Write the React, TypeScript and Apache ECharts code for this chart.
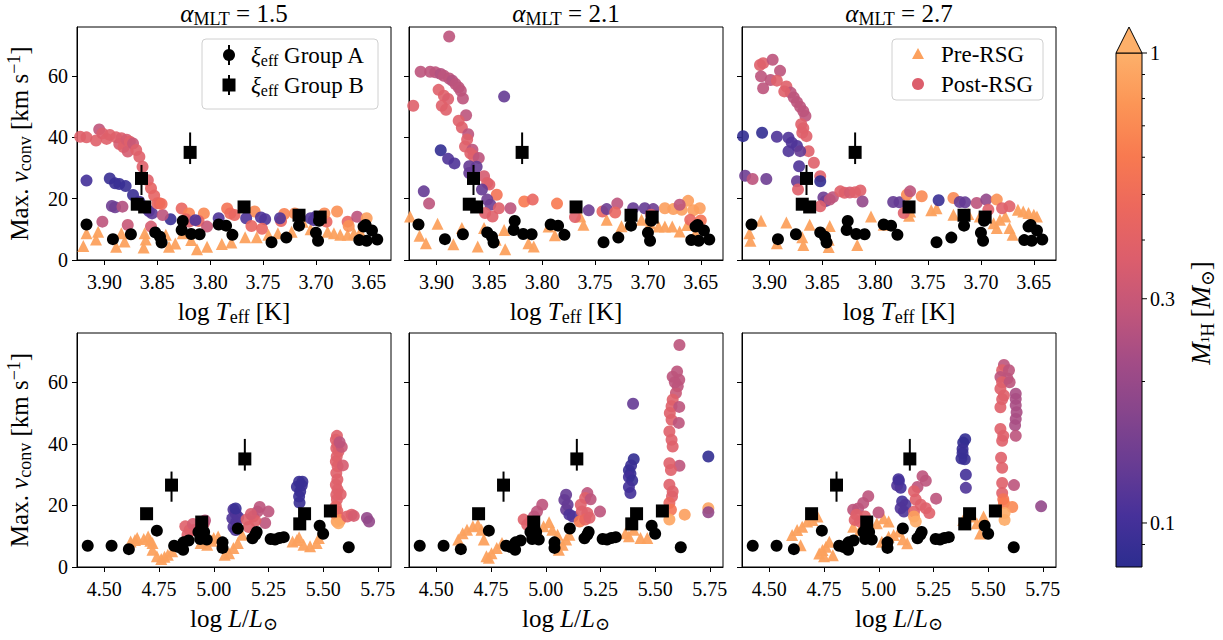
import React, { useEffect, useRef } from "react";
import * as echarts from "echarts";

const FONT = '"Liberation Serif", "DejaVu Serif", serif';

// ---------- colour map (bottom -> top of the colour bar, evenly spaced in log10 M) ----------
const CMAP = ["#2c2d8f", "#47319a", "#683c93", "#86458c", "#a34c86", "#c2567a", "#dc5e6c", "#ec685d", "#f87a50", "#fc9556", "#fdb06a"];
const M_MIN = 0.0806;
const M_MAX = 1;
const PRE_COLOR = "#fca15e";

// ---------- ticks / labels ----------
const teffTicks = [3.65, 3.7, 3.75, 3.8, 3.85, 3.9];
const lumTicks = [4.5, 4.75, 5.0, 5.25, 5.5, 5.75];
const vTicks = [0, 20, 40, 60];
const cbMajor = [1, 0.3, 0.1];
const cbMajorLabels = ["1", "0.3", "0.1"];
const cbMinor = [0.9, 0.8, 0.7, 0.6, 0.5, 0.4, 0.2, 0.09];
const alphaLabels = ["1.5", "2.1", "2.7"];

// ---------- observations ----------
// Group A : [logTeff, v]
const obsATop = [
  [3.917, 11.6], [3.892, 6.8], [3.875, 8.4], [3.852, 9.0], [3.8475, 7.6], [3.846, 5.7], [3.827, 9.8], [3.826, 12.7],
  [3.818, 8.5], [3.81, 8.4], [3.792, 11.6], [3.785, 11.2], [3.779, 8.2], [3.742, 5.8], [3.728, 7.3], [3.716, 11.2],
  [3.7, 8.9], [3.698, 6.3], [3.697, 12.8], [3.659, 6.5], [3.655, 10.9], [3.652, 6.3], [3.653, 11.4], [3.647, 9.6], [3.642, 6.7],
];
// Group A : [logL, v]
const obsABot = [
  [4.424, 6.9], [4.533, 6.9], [4.612, 5.8], [4.74, 11.8], [4.819, 6.9], [4.84, 6.5], [4.86, 5.6], [4.862, 8.0],
  [4.885, 8.6], [4.93, 11.4], [4.938, 9.1], [4.956, 11.4], [4.968, 8.9], [5.04, 8.0], [5.04, 6.2], [5.11, 12.5],
  [5.177, 9.3], [5.196, 11.4], [5.19, 10.5], [5.26, 9.1], [5.28, 8.9], [5.3, 9.4], [5.32, 9.7], [5.484, 13.4], [5.5, 10.8], [5.617, 6.4],
];
// Group B : [logTeff, logL, v, errLow, errHigh]
const obsB = [
  [3.865, 4.807, 26.6, 5.4, 4.4],
  [3.819, 5.142, 35.1, 3.8, 6.5],
  [3.869, 5.533, 18.2, 1.0, 1.0],
  [3.862, 5.415, 17.3, 1.0, 1.0],
  [3.768, 4.693, 17.3, 1.0, 1.0],
  [3.716, 4.945, 14.6, 1.0, 1.0],
  [3.696, 5.393, 14.0, 1.0, 1.0],
];

// ---------- models : post-RSG [x, v, M_H] ; pre-RSG [x, v] ----------
const top1Post = [
  [3.923, 40.2, 0.38], [3.917, 40.0, 0.38], [3.905, 42.6, 0.28], [3.908, 39.0, 0.38], [3.902, 41.3, 0.36],
  [3.898, 39.5, 0.38], [3.895, 40.8, 0.38], [3.889, 40.0, 0.38], [3.886, 37.8, 0.34], [3.884, 39.7, 0.36],
  [3.882, 36.8, 0.38], [3.879, 39.2, 0.34], [3.878, 35.4, 0.34], [3.876, 38.6, 0.38], [3.873, 38.0, 0.3],
  [3.87, 35.9, 0.38], [3.867, 33.7, 0.38], [3.864, 30.4, 0.38], [3.859, 26.0, 0.38], [3.856, 23.4, 0.42],
  [3.853, 21.0, 0.42], [3.848, 18.5, 0.45],
  [3.917, 25.9, 0.1], [3.895, 26.6, 0.09], [3.89, 25.0, 0.09], [3.886, 24.8, 0.09], [3.88, 24.1, 0.09],
  [3.873, 21.2, 0.09], [3.867, 19.0, 0.1], [3.861, 17.0, 0.11], [3.858, 16.0, 0.11], [3.855, 15.2, 0.12], [3.8375, 13.3, 0.09],
  [3.893, 17.6, 0.14], [3.89, 17.2, 0.14], [3.883, 17.4, 0.25], [3.902, 12.5, 0.27], [3.878, 11.4, 0.3],
  [3.856, 10.9, 0.34], [3.845, 14.7, 0.27], [3.85, 18.5, 0.45], [3.846, 18.3, 0.5], [3.827, 16.8, 0.45],
  [3.82, 15.2, 0.65], [3.806, 15.2, 0.7], [3.823, 13.3, 0.45], [3.811, 12.7, 0.45], [3.803, 10.9, 0.3],
  [3.82, 12.5, 0.38], [3.814, 13.0, 0.11], [3.792, 13.6, 0.11], [3.784, 16.8, 0.55], [3.781, 15.2, 0.5],
  [3.777, 14.7, 0.45], [3.758, 15.8, 0.7], [3.766, 13.6, 0.11], [3.752, 13.9, 0.11], [3.748, 13.3, 0.11],
  [3.761, 11.1, 0.45], [3.751, 10.2, 0.45], [3.733, 12.7, 0.45], [3.73, 15.0, 0.65], [3.734, 13.6, 0.11],
  [3.72, 15.2, 0.7], [3.716, 14.1, 0.11], [3.705, 13.6, 0.11], [3.702, 13.0, 0.11], [3.7, 14.1, 0.11],
  [3.69, 12.5, 0.45], [3.692, 15.2, 0.7], [3.68, 15.8, 0.75], [3.67, 12.5, 0.45], [3.669, 11.1, 0.75],
  [3.661, 14.1, 0.27], [3.652, 13.6, 0.85],
];
const top1Pre = [
  [3.92, 4.6], [3.917, 8.7], [3.908, 6.7], [3.906, 9.2], [3.889, 4.3], [3.884, 8.7], [3.881, 6.0], [3.862, 8.7],
  [3.863, 4.1], [3.861, 6.7], [3.842, 8.2], [3.839, 4.3], [3.833, 5.4], [3.826, 8.7], [3.818, 6.5], [3.8125, 3.5],
  [3.803, 4.3], [3.789, 5.2], [3.78, 5.7], [3.767, 7.4], [3.756, 7.4], [3.745, 8.2], [3.736, 8.7], [3.723, 9.2],
  [3.7125, 12.5], [3.705, 10.0], [3.689, 9.2], [3.683, 8.7], [3.677, 8.2], [3.67, 8.2], [3.664, 8.7], [3.658, 9.2],
];

const top2Post = [
  [3.922, 50.3, 0.38], [3.927, 22.0, 0.27], [3.915, 61.4, 0.27], [3.906, 61.4, 0.27], [3.901, 61.2, 0.27],
  [3.896, 60.7, 0.25], [3.893, 60.1, 0.27], [3.888, 59.2, 0.27], [3.885, 58.5, 0.25], [3.882, 57.4, 0.27],
  [3.879, 56.3, 0.27], [3.877, 55.2, 0.27], [3.875, 52.7, 0.27], [3.888, 72.9, 0.27], [3.898, 55.5, 0.38],
  [3.893, 53.6, 0.38], [3.889, 52.5, 0.36], [3.895, 50.3, 0.38], [3.891, 49.0, 0.38], [3.872, 47.2, 0.27],
  [3.879, 45.4, 0.38], [3.876, 43.2, 0.38], [3.87, 41.0, 0.27], [3.871, 39.3, 0.38], [3.873, 37.0, 0.38],
  [3.866, 36.0, 0.27], [3.868, 34.8, 0.38], [3.865, 33.9, 0.38], [3.86, 33.3, 0.27], [3.869, 30.6, 0.13],
  [3.862, 30.4, 0.13], [3.869, 28.4, 0.13], [3.855, 27.3, 0.34], [3.852, 25.1, 0.38], [3.85, 24.6, 0.38],
  [3.857, 23.0, 0.13], [3.843, 21.3, 0.55], [3.896, 35.8, 0.085], [3.889, 33.0, 0.11], [3.883, 31.5, 0.11],
  [3.912, 22.4, 0.13], [3.907, 18.4, 0.27], [3.852, 19.7, 0.14], [3.849, 18.0, 0.14], [3.854, 15.3, 0.38],
  [3.847, 14.2, 0.38], [3.841, 16.9, 0.38], [3.83, 16.9, 0.27], [3.836, 53.3, 0.13], [3.817, 19.1, 0.6],
  [3.809, 19.7, 0.45], [3.786, 18.4, 0.6], [3.769, 14.0, 0.38], [3.756, 16.2, 0.14], [3.743, 15.8, 0.45],
  [3.739, 16.6, 0.14], [3.729, 18.4, 0.27], [3.731, 15.5, 0.45], [3.714, 16.9, 0.13], [3.703, 16.9, 0.13],
  [3.695, 16.6, 0.14], [3.697, 14.8, 0.38], [3.684, 16.9, 0.85], [3.676, 16.6, 0.85], [3.668, 16.4, 0.85],
  [3.662, 19.3, 0.85], [3.67, 18.0, 0.27], [3.657, 16.2, 0.85], [3.651, 16.9, 0.85], [3.66, 13.1, 0.45], [3.65, 12.9, 0.55],
];
const top2Pre = [
  [3.925, 14.2], [3.916, 7.9], [3.91, 5.5], [3.899, 11.8], [3.884, 5.1], [3.876, 10.4], [3.861, 4.4], [3.855, 10.4],
  [3.844, 6.6], [3.836, 9.8], [3.835, 3.5], [3.813, 5.5], [3.808, 4.4], [3.794, 10.9], [3.788, 8.1], [3.764, 14.2],
  [3.761, 11.5], [3.739, 13.1], [3.725, 11.0], [3.718, 11.8], [3.706, 13.1], [3.698, 12.0], [3.69, 10.9], [3.684, 10.9],
  [3.677, 10.9], [3.67, 9.3], [3.663, 11.4], [3.655, 8.7],
];

const top3Post = [
  [3.909, 63.6, 0.38], [3.906, 64.2, 0.38], [3.897, 65.3, 0.27], [3.89, 61.7, 0.27], [3.908, 59.9, 0.27],
  [3.899, 58.7, 0.27], [3.906, 56.0, 0.27], [3.893, 58.5, 0.38], [3.884, 56.6, 0.38], [3.88, 54.6, 0.27],
  [3.886, 55.0, 0.38], [3.877, 53.0, 0.27], [3.874, 51.5, 0.27], [3.871, 50.0, 0.27], [3.868, 48.5, 0.27],
  [3.866, 47.0, 0.27], [3.87, 44.3, 0.38], [3.868, 43.0, 0.38], [3.869, 41.5, 0.38], [3.865, 40.4, 0.38],
  [3.863, 35.5, 0.38], [3.858, 31.7, 0.38], [3.852, 27.3, 0.38],
  [3.925, 40.4, 0.085], [3.907, 41.5, 0.085], [3.893, 40.2, 0.11], [3.882, 39.9, 0.11], [3.879, 38.3, 0.11],
  [3.874, 37.2, 0.11], [3.882, 35.5, 0.11], [3.871, 35.5, 0.13], [3.872, 30.6, 0.11], [3.874, 25.7, 0.13],
  [3.852, 25.7, 0.085], [3.923, 27.5, 0.14], [3.916, 26.4, 0.27], [3.903, 26.4, 0.14], [3.873, 23.0, 0.38],
  [3.849, 20.4, 0.14], [3.847, 19.2, 0.14], [3.852, 17.5, 0.38], [3.843, 19.7, 0.27], [3.84, 20.5, 0.27],
  [3.833, 22.4, 0.38], [3.829, 21.9, 0.38], [3.824, 22.0, 0.34], [3.819, 22.1, 0.38], [3.814, 22.7, 0.38],
  [3.812, 19.1, 0.19], [3.783, 18.9, 0.13], [3.777, 18.8, 0.13], [3.77, 21.3, 0.7], [3.767, 22.4, 0.27],
  [3.773, 15.3, 0.38], [3.756, 20.8, 0.7], [3.74, 19.5, 0.09], [3.726, 20.2, 0.7], [3.72, 18.9, 0.13],
  [3.715, 18.8, 0.13], [3.704, 18.6, 0.27], [3.695, 19.7, 0.19], [3.685, 19.7, 0.75], [3.68, 16.9, 0.38],
  [3.673, 17.5, 0.38], [3.693, 16.4, 0.38],
];
const top3Pre = [
  [3.919, 8.7], [3.918, 6.3], [3.908, 12.8], [3.893, 5.5], [3.884, 12.2], [3.869, 7.4], [3.868, 4.9], [3.862, 11.5],
  [3.843, 11.1], [3.844, 4.2], [3.844, 6.6], [3.817, 4.9], [3.804, 14.2], [3.792, 11.5], [3.768, 14.4], [3.767, 15.8],
  [3.747, 16.2], [3.742, 16.9], [3.726, 14.8], [3.712, 15.0], [3.701, 14.2], [3.688, 12.0], [3.682, 13.1], [3.677, 14.2],
  [3.673, 10.4], [3.67, 8.2], [3.665, 16.4], [3.66, 15.8], [3.655, 15.3], [3.65, 14.8], [3.647, 14.2], [3.685, 10.4],
];

const bot1Post = [
  [5.563, 42.6, 0.38], [5.558, 41.3, 0.38], [5.566, 39.7, 0.38], [5.56, 38.6, 0.38], [5.57, 37.5, 0.38],
  [5.562, 35.9, 0.38], [5.558, 34.3, 0.38], [5.566, 32.7, 0.38], [5.56, 30.5, 0.38], [5.565, 28.4, 0.38],
  [5.558, 26.7, 0.38], [5.566, 25.1, 0.38], [5.56, 23.5, 0.38], [5.563, 21.9, 0.38], [5.558, 19.7, 0.42],
  [5.565, 18.1, 0.42], [5.56, 17.0, 0.45], [5.585, 39.0, 0.3], [5.59, 33.0, 0.34], [5.58, 23.6, 0.38],
  [5.575, 40.5, 0.27], [5.562, 14.8, 0.85], [5.578, 15.3, 0.7], [5.57, 14.2, 0.95], [5.61, 16.4, 0.38],
  [5.63, 17.0, 0.38], [5.64, 16.6, 0.34], [5.7, 15.9, 0.19], [5.71, 14.8, 0.19],
  [5.38, 26.1, 0.09], [5.39, 27.7, 0.09], [5.405, 27.7, 0.09], [5.395, 24.5, 0.09], [5.39, 22.9, 0.09],
  [5.392, 20.9, 0.09], [5.402, 26.5, 0.09],
  [5.09, 18.7, 0.11], [5.1, 17.4, 0.11], [5.085, 15.8, 0.11], [5.103, 14.6, 0.11], [5.09, 13.0, 0.11],
  [5.1, 12.0, 0.11], [5.112, 16.2, 0.11], [5.1, 19.0, 0.09],
  [5.18, 16.4, 0.38], [5.15, 15.4, 0.38], [5.2, 18.0, 0.27], [5.21, 19.5, 0.27], [5.235, 14.3, 0.27],
  [5.25, 18.0, 0.27], [5.19, 15.0, 0.38], [5.16, 13.0, 0.38], [5.17, 17.2, 0.34],
  [4.87, 13.2, 0.38], [4.89, 12.0, 0.38], [4.91, 12.0, 0.38], [4.94, 13.3, 0.38], [4.955, 14.2, 0.38],
  [4.96, 15.1, 0.27], [4.88, 10.5, 0.38], [4.905, 14.0, 0.34],
];
const bot1Pre = [
  [4.62, 8.3], [4.64, 8.8], [4.65, 9.4], [4.68, 9.1], [4.7, 9.9], [4.71, 8.5], [4.72, 7.8], [4.72, 5.6],
  [4.74, 3.5], [4.76, 2.6], [4.775, 3.3], [4.79, 4.0], [4.81, 5.1], [4.94, 7.8], [4.97, 7.2], [5.0, 9.4],
  [5.02, 9.9], [4.99, 8.5], [5.05, 4.0], [5.07, 4.5], [5.09, 6.2], [5.11, 7.8], [5.13, 10.5], [5.36, 8.3],
  [5.39, 9.7], [5.41, 7.2], [5.44, 6.7], [5.47, 7.8], [5.48, 9.4], [5.38, 8.8],
];

const bot2Post = [
  [5.611, 72.1, 0.27], [5.58, 61.8, 0.27], [5.61, 60.8, 0.27], [5.603, 58.7, 0.27], [5.595, 56.5, 0.3],
  [5.58, 54.3, 0.38], [5.575, 52.2, 0.38], [5.61, 52.0, 0.27], [5.567, 50.0, 0.38], [5.575, 47.8, 0.38],
  [5.608, 46.8, 0.27], [5.565, 44.0, 0.38], [5.575, 41.3, 0.38], [5.58, 39.1, 0.38], [5.611, 32.9, 0.27],
  [5.565, 33.7, 0.38], [5.572, 31.5, 0.38], [5.565, 26.7, 0.38], [5.58, 24.5, 0.38], [5.577, 22.9, 0.38],
  [5.565, 20.8, 0.45], [5.572, 18.6, 0.55], [5.565, 15.4, 0.9], [5.635, 17.0, 0.85], [5.743, 19.1, 0.9],
  [5.743, 17.8, 0.19], [5.399, 53.0, 0.13], [5.743, 35.9, 0.085], [5.59, 60.0, 0.27], [5.6, 63.5, 0.27],
  [5.402, 35.0, 0.085], [5.39, 33.0, 0.09], [5.38, 31.4, 0.09], [5.387, 30.3, 0.09], [5.38, 29.2, 0.1],
  [5.395, 28.1, 0.09], [5.38, 26.0, 0.1], [5.387, 24.0, 0.1],
  [5.093, 23.5, 0.13], [5.085, 21.8, 0.13], [5.1, 20.2, 0.13], [5.093, 18.6, 0.13], [5.108, 17.0, 0.11], [5.124, 16.4, 0.11],
  [5.19, 24.0, 0.27], [5.18, 22.4, 0.38], [5.205, 22.0, 0.27], [5.16, 20.2, 0.38], [5.165, 18.0, 0.38],
  [5.19, 17.5, 0.38], [5.155, 14.8, 0.6], [5.18, 15.4, 0.45], [5.2, 16.0, 0.38], [5.248, 18.0, 0.27],
  [4.899, 15.4, 0.38], [4.915, 13.7, 0.38], [4.946, 16.4, 0.27], [4.984, 20.2, 0.27], [4.96, 18.0, 0.27], [4.93, 14.8, 0.38],
];
const bot2Pre = [
  [4.6, 8.9], [4.62, 11.0], [4.64, 12.1], [4.667, 13.2], [4.69, 13.7], [4.706, 12.1], [4.717, 8.9], [4.729, 3.5],
  [4.752, 4.5], [4.776, 6.2], [4.8, 7.8], [4.74, 3.0], [4.96, 12.1], [4.99, 13.2], [5.015, 14.5], [5.03, 12.1],
  [5.054, 10.5], [5.06, 5.6], [5.077, 7.2], [5.093, 8.9], [5.108, 10.5], [5.364, 11.0], [5.402, 12.1], [5.433, 9.4],
  [5.464, 9.4], [5.38, 10.0],
];

const bot3Post = [
  [5.572, 65.6, 0.27], [5.564, 63.9, 0.38], [5.595, 63.9, 0.27], [5.556, 61.7, 0.27], [5.588, 61.2, 0.27],
  [5.564, 60.0, 0.38], [5.598, 60.0, 0.27], [5.556, 57.9, 0.38], [5.572, 55.7, 0.38], [5.564, 54.5, 0.38],
  [5.556, 51.9, 0.38], [5.626, 56.3, 0.23], [5.626, 54.6, 0.23], [5.626, 52.5, 0.23], [5.63, 50.3, 0.23],
  [5.626, 48.1, 0.23], [5.623, 46.0, 0.23], [5.626, 42.6, 0.27], [5.556, 44.8, 0.38], [5.569, 42.6, 0.38],
  [5.564, 41.0, 0.38], [5.559, 35.5, 0.38], [5.564, 32.2, 0.38], [5.564, 27.3, 0.38], [5.618, 26.6, 0.27],
  [5.564, 24.0, 0.38], [5.569, 22.0, 0.55], [5.572, 20.8, 0.6], [5.61, 19.5, 0.7], [5.575, 17.5, 0.95],
  [5.575, 15.3, 0.95], [5.742, 19.7, 0.19],
  [5.386, 40.4, 0.085], [5.395, 41.5, 0.085], [5.383, 38.3, 0.09], [5.378, 35.2, 0.09], [5.393, 35.0, 0.09],
  [5.398, 30.0, 0.1], [5.398, 25.7, 0.11], [5.383, 37.0, 0.09],
  [5.092, 27.9, 0.1], [5.1, 25.7, 0.1], [5.084, 26.5, 0.11], [5.107, 21.3, 0.1], [5.122, 20.2, 0.11],
  [5.1, 19.1, 0.11], [5.115, 18.0, 0.11], [5.09, 28.5, 0.1],
  [5.2, 29.5, 0.27], [5.215, 28.0, 0.27], [5.177, 26.0, 0.27], [5.161, 24.6, 0.38], [5.169, 21.9, 0.38],
  [5.192, 20.2, 0.38], [5.161, 18.0, 0.38], [5.215, 19.1, 0.38], [5.231, 17.5, 0.38], [5.262, 22.2, 0.27],
  [5.161, 16.4, 0.85], [5.169, 14.8, 0.95],
  [4.883, 18.6, 0.27], [4.906, 19.0, 0.27], [4.929, 20.8, 0.27], [4.952, 23.0, 0.27], [4.999, 17.7, 0.27],
  [4.89, 15.3, 0.38], [4.914, 14.8, 0.38], [4.937, 16.4, 0.38], [4.898, 17.0, 0.38],
];
const bot3Pre = [
  [4.604, 10.4], [4.627, 12.0], [4.65, 13.1], [4.673, 14.8], [4.697, 15.3], [4.72, 16.4], [4.643, 7.1], [4.728, 4.4],
  [4.743, 5.5], [4.759, 6.6], [4.774, 8.2], [4.79, 3.8], [4.75, 3.5], [4.883, 13.1], [4.914, 12.0], [4.952, 13.1],
  [4.991, 14.2], [5.022, 15.8], [5.045, 14.8], [5.014, 8.2], [5.045, 9.8], [5.068, 10.4], [5.092, 11.5], [5.13, 7.7],
  [5.11, 9.0], [5.386, 15.3], [5.417, 16.4], [5.448, 14.2], [5.463, 10.9], [5.479, 16.4],
];

// ---------- layout ----------
const GRID_LEFT = [77, 409, 742];
const GRID_W = 314;
const ROW_TOP = [27, 333];
const ROW_H = [233, 234];
const CB = { x: 1116, top: 53, w: 26, h: 514, tip: 27 };
const TICK_FS = 20;
const LABEL_FS = 25;
const LEGEND_FS = 23;
const MARK = 12;

function rich(size: number) {
  const base = { fontFamily: FONT, fontSize: size, color: "#000", fill: "#000", lineHeight: size + 4 };
  return {
    n: { ...base },
    i: { ...base, fontStyle: "italic" },
    sub: { fontFamily: FONT, fontSize: Math.round(size * 0.7), color: "#000", fill: "#000", verticalAlign: "bottom", lineHeight: 11 },
    sup: { fontFamily: FONT, fontSize: Math.round(size * 0.7), color: "#000", fill: "#000", verticalAlign: "top", lineHeight: 17 },
  };
}

export default function App() {
  const ref = useRef<HTMLDivElement>(null);
  useEffect(() => {
    if (!ref.current) return;
    const chart = echarts.init(ref.current, null, { renderer: "svg" });

    const panels = [
      { row: 0, col: 0, post: top1Post, pre: top1Pre },
      { row: 0, col: 1, post: top2Post, pre: top2Pre },
      { row: 0, col: 2, post: top3Post, pre: top3Pre },
      { row: 1, col: 0, post: bot1Post, pre: bot1Pre },
      { row: 1, col: 1, post: bot2Post, pre: bot2Pre },
      { row: 1, col: 2, post: bot3Post, pre: bot3Pre },
    ];

    const grids = panels.map((p) => ({
      left: GRID_LEFT[p.col], top: ROW_TOP[p.row], width: GRID_W, height: ROW_H[p.row],
      show: true, borderColor: "#000", borderWidth: 1, backgroundColor: "transparent",
    }));

    const teffName = "{n|log }{i|T}{sub|eff}{n| [K]}";
    const lumName = "{n|log }{i|L}{n|/}{i|L}{sub|⊙}";
    const vName = "{n|Max. }{i|v}{sub|conv}{n| [km s}{sup|−1}{n|]}";

    const xAxes = panels.map((p, i) => ({
      type: "value", gridIndex: i,
      min: p.row === 0 ? 3.629 : 4.375,
      max: p.row === 0 ? 3.926 : 5.81,
      inverse: p.row === 0,
      axisLine: { show: true, onZero: false, lineStyle: { color: "#000", width: 1 } },
      axisTick: { show: true, customValues: p.row === 0 ? teffTicks : lumTicks, length: 5, lineStyle: { color: "#000" } },
      axisLabel: {
        show: true, customValues: p.row === 0 ? teffTicks : lumTicks,
        formatter: (v: number) => v.toFixed(2), fontFamily: FONT, fontSize: TICK_FS, color: "#000", margin: 12,
      },
      splitLine: { show: false },
      name: p.row === 0 ? teffName : lumName,
      nameLocation: "middle", nameGap: 37,
      nameTextStyle: { rich: rich(LABEL_FS) },
    }));

    const yAxes = panels.map((p, i) => ({
      type: "value", gridIndex: i, min: 0, max: 76,
      axisLine: { show: true, onZero: false, lineStyle: { color: "#000", width: 1 } },
      axisTick: { show: true, customValues: vTicks, length: 5, lineStyle: { color: "#000" } },
      axisLabel: { show: p.col === 0, customValues: vTicks, fontFamily: FONT, fontSize: TICK_FS, color: "#000", margin: 9 },
      splitLine: { show: false },
      name: p.col === 0 ? vName : "",
      nameLocation: "middle", nameRotate: 90, nameGap: 43,
      nameTextStyle: { rich: rich(LABEL_FS) },
    }));

    const series: any[] = [];
    const postIdx: number[] = [];
    panels.forEach((p, i) => {
      const xi = p.row === 0 ? 0 : 1;
      series.push({
        type: "scatter", xAxisIndex: i, yAxisIndex: i, symbol: "triangle", symbolSize: MARK,
        itemStyle: { color: PRE_COLOR, opacity: 0.95 }, data: p.pre, z: 2,
      });
      postIdx.push(series.length);
      series.push({
        type: "scatter", xAxisIndex: i, yAxisIndex: i, symbol: "circle", symbolSize: MARK,
        itemStyle: { opacity: 0.9 }, data: p.post.map((d) => [d[0], d[1], Math.log10(d[2])]), z: 3,
      });
      series.push({
        type: "scatter", xAxisIndex: i, yAxisIndex: i, symbol: "circle", symbolSize: MARK,
        itemStyle: { color: "#000", opacity: 1 }, data: p.row === 0 ? obsATop : obsABot, z: 4,
      });
      series.push({
        type: "custom", xAxisIndex: i, yAxisIndex: i, z: 4,
        data: obsB.map((d) => [d[xi], d[2] - d[3], d[2] + d[4]]),
        encode: { x: 0, y: [1, 2] },
        renderItem: (_params: any, api: any) => {
          const a = api.coord([api.value(0), api.value(1)]);
          const b = api.coord([api.value(0), api.value(2)]);
          return { type: "line", shape: { x1: a[0], y1: a[1], x2: b[0], y2: b[1] }, style: { stroke: "#000", lineWidth: 2 } };
        },
      });
      series.push({
        type: "scatter", xAxisIndex: i, yAxisIndex: i, symbol: "rect", symbolSize: MARK + 1,
        itemStyle: { color: "#000", opacity: 1 }, data: obsB.map((d) => [d[xi], d[2]]), z: 5,
      });
    });

    const lmin = Math.log10(M_MIN);
    const lmax = Math.log10(M_MAX);
    const cbY = (m: number) => CB.top + ((lmax - Math.log10(m)) / (lmax - lmin)) * CB.h;

    const graphic: any[] = [];
    alphaLabels.forEach((a, c) => {
      graphic.push({
        type: "text", x: GRID_LEFT[c] + GRID_W / 2, y: 13,
        style: { text: `{i|α}{sub|MLT}{n| = ${a}}`, rich: rich(LABEL_FS), align: "center", verticalAlign: "middle" },
      });
    });
    // colour bar
    graphic.push({
      type: "rect", shape: { x: CB.x, y: CB.top, width: CB.w, height: CB.h },
      style: {
        fill: new echarts.graphic.LinearGradient(0, 1, 0, 0, CMAP.map((c, k) => ({ offset: k / (CMAP.length - 1), color: c }))),
        stroke: "#000", lineWidth: 1,
      },
    });
    graphic.push({
      type: "polygon",
      shape: { points: [[CB.x, CB.top], [CB.x + CB.w / 2, CB.tip], [CB.x + CB.w, CB.top]] },
      style: { fill: CMAP[CMAP.length - 1], stroke: "#000", lineWidth: 1 },
    });
    cbMajor.forEach((m, k) => {
      const y = cbY(m);
      graphic.push({ type: "line", shape: { x1: CB.x + CB.w, y1: y, x2: CB.x + CB.w + 5, y2: y }, style: { stroke: "#000", lineWidth: 1 } });
      graphic.push({
        type: "text", x: CB.x + CB.w + 8, y,
        style: { text: cbMajorLabels[k], fontFamily: FONT, fontSize: TICK_FS, fill: "#000", align: "left", verticalAlign: "middle" },
      });
    });
    cbMinor.forEach((m) => {
      const y = cbY(m);
      graphic.push({ type: "line", shape: { x1: CB.x + CB.w, y1: y, x2: CB.x + CB.w + 3, y2: y }, style: { stroke: "#000", lineWidth: 1 } });
    });
    graphic.push({
      type: "text", x: 1201, y: 313, rotation: Math.PI / 2,
      style: { text: "{i|M}{sub|¹H}{n|\u2009[}{i|M}{sub|⊙}{n|]}", rich: rich(27), align: "center", verticalAlign: "middle" },
    });

    // legend: observations (panel 1)
    graphic.push({
      type: "rect", shape: { x: 202, y: 39, width: 176, height: 70, r: 4 },
      style: { fill: "rgba(255,255,255,0.8)", stroke: "#d0d0d0", lineWidth: 1 }, z: 10,
    });
    [55, 85].forEach((y, k) => {
      graphic.push({ type: "line", shape: { x1: 229, y1: y - 10, x2: 229, y2: y + 10 }, style: { stroke: "#000", lineWidth: 2 }, z: 11 });
      if (k === 0) graphic.push({ type: "circle", shape: { cx: 229, cy: y, r: 6 }, style: { fill: "#000" }, z: 11 });
      else graphic.push({ type: "rect", shape: { x: 222.5, y: y - 6.5, width: 13, height: 13 }, style: { fill: "#000" }, z: 11 });
      graphic.push({
        type: "text", x: 251, y, z: 11,
        style: { text: `{i|ξ}{sub|eff}{n| Group ${k === 0 ? "A" : "B"}}`, rich: rich(LEGEND_FS), align: "left", verticalAlign: "middle" },
      });
    });
    // legend: models (panel 3)
    graphic.push({
      type: "rect", shape: { x: 892, y: 39, width: 151, height: 61, r: 4 },
      style: { fill: "rgba(255,255,255,0.8)", stroke: "#d0d0d0", lineWidth: 1 }, z: 10,
    });
    graphic.push({
      type: "polygon", shape: { points: [[912, 59], [918, 48], [924, 59]] }, style: { fill: PRE_COLOR }, z: 11,
    });
    graphic.push({ type: "circle", shape: { cx: 918, cy: 84, r: 6 }, style: { fill: "#dc5e6c" }, z: 11 });
    graphic.push({
      type: "text", x: 941, y: 54, z: 11,
      style: { text: "Pre-RSG", fontFamily: FONT, fontSize: LEGEND_FS, fill: "#000", align: "left", verticalAlign: "middle" },
    });
    graphic.push({
      type: "text", x: 941, y: 84, z: 11,
      style: { text: "Post-RSG", fontFamily: FONT, fontSize: LEGEND_FS, fill: "#000", align: "left", verticalAlign: "middle" },
    });

    chart.setOption({
      animation: false,
      backgroundColor: "#fff",
      grid: grids,
      xAxis: xAxes,
      yAxis: yAxes,
      visualMap: {
        type: "continuous", show: false, dimension: 2, min: lmin, max: lmax,
        seriesIndex: postIdx, inRange: { color: CMAP },
      },
      series,
      graphic,
    });
    return () => chart.dispose();
  }, []);
  return <div ref={ref} style={{ position: "absolute", left: 0, top: 0, width: 1223, height: 640 }} />;
}
